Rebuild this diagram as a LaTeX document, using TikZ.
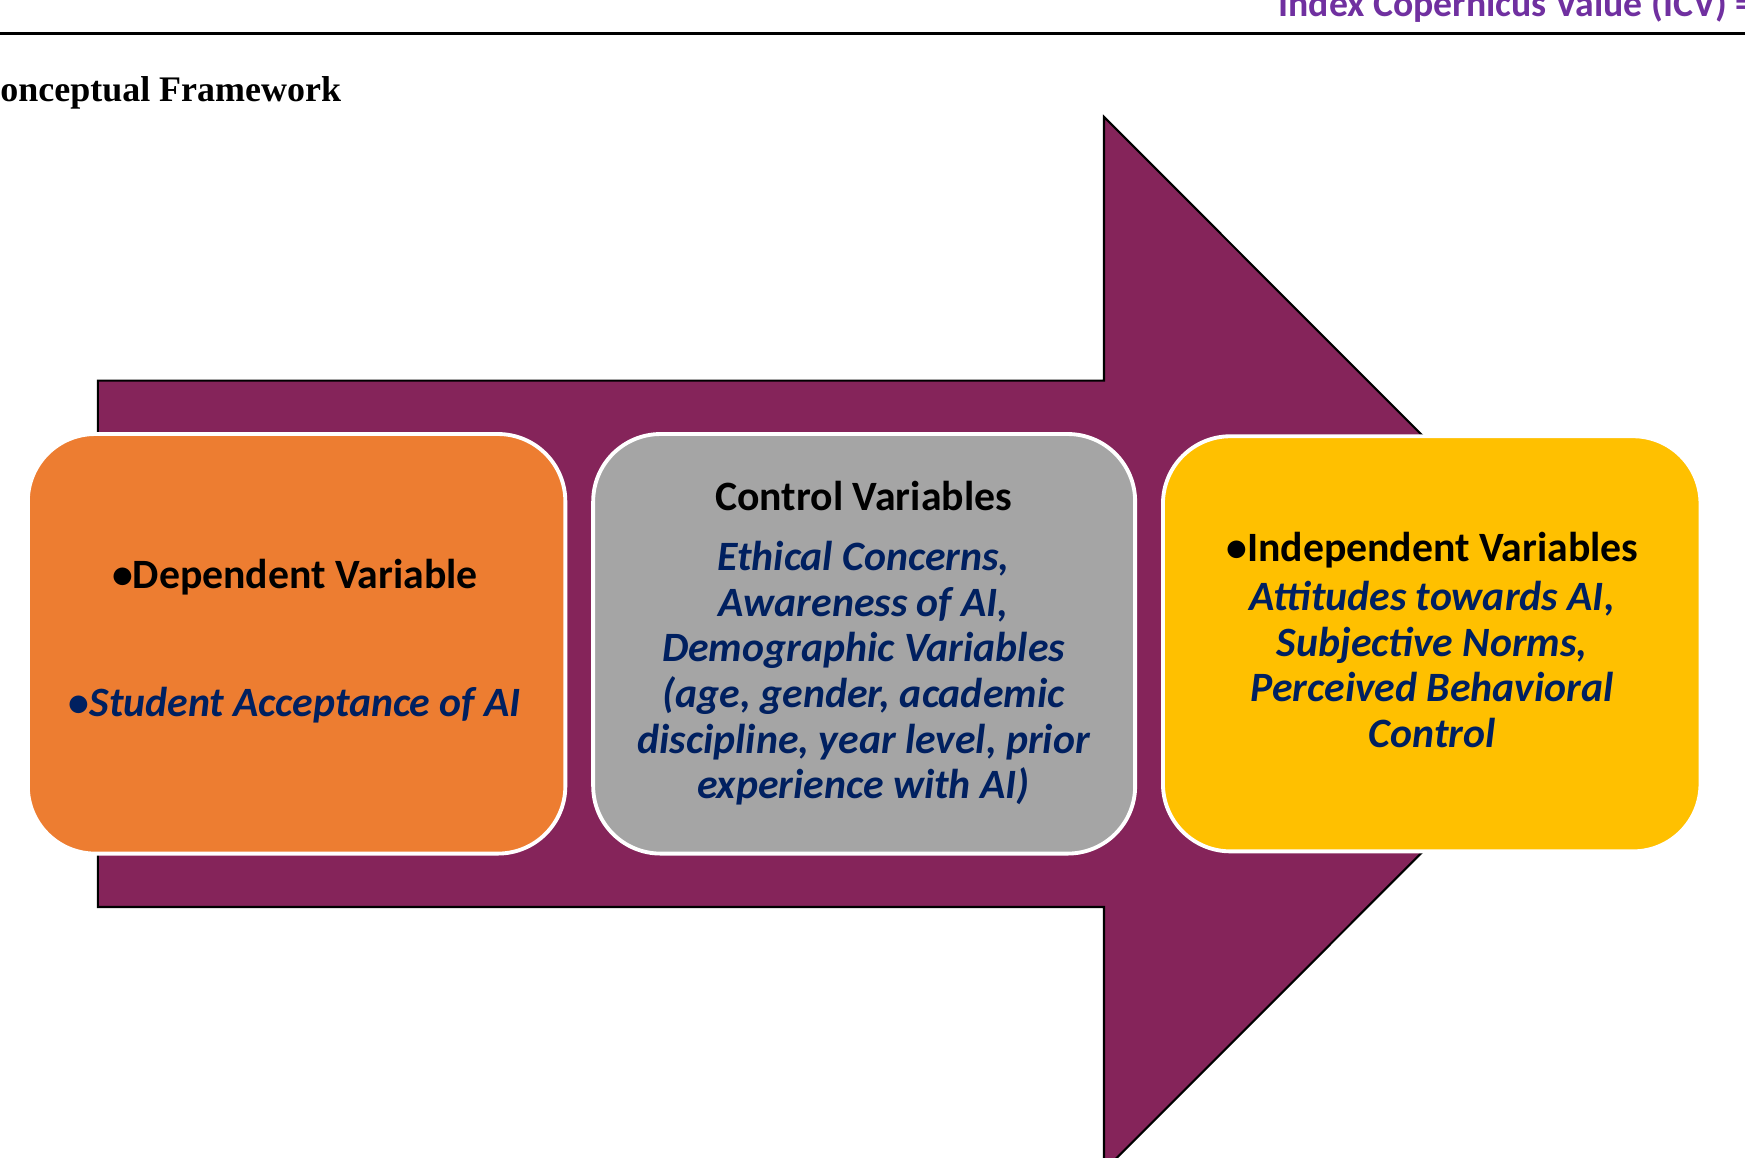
\documentclass[tikz,border=0pt]{standalone}
\usepackage{fontspec}
\setmainfont{Carlito}
\newfontfamily\serifbf{Liberation Serif}
\definecolor{plum}{RGB}{133,36,90}
\definecolor{orng}{RGB}{237,125,49}
\definecolor{gry}{RGB}{165,165,165}
\definecolor{yel}{RGB}{255,192,0}
\definecolor{navy}{RGB}{0,32,96}
\definecolor{purp}{RGB}{112,48,160}
\begin{document}
\begin{tikzpicture}[x=0.0223cm,y=-0.0223cm,
 box/.style={draw=white,line width=2.2pt,rounded corners=1.35cm},
 hd/.style={font=\fontsize{23.8}{26}\selectfont\bfseries,text=black,align=center},
 bl/.style={font=\fontsize{23.8}{26}\selectfont\bfseries\itshape,text=navy,align=center}]
\useasboundingbox (0,0) rectangle (1568,1040);
\node[anchor=east,font=\fontsize{21.5}{24}\selectfont\bfseries,text=purp] (icv) at (1582,5) {Index Copernicus Value (ICV) =};
\draw[line width=1.3pt] (0,30) -- (1568,30);
\node[anchor=east,font=\fontsize{20.5}{23}\selectfont\serifbf\bfseries] (title) at (312,83) {Conceptual Framework};
\draw[fill=plum,draw=black,line width=1.2pt] (88,342) -- (992,342) -- (992,105) -- (1465,578.5) -- (992,1052) -- (992,815) -- (88,815) -- cycle;
\draw[box,fill=orng] (25,390) rectangle (508,767);
\draw[box,fill=gry] (533,390) rectangle (1020,767);
\draw[box,fill=yel] (1045,392) rectangle (1528,765);
\node[hd] (dv) at (265,519) {•Dependent Variable};
\node[bl] (sa) at (265,634) {\upshape•\itshape Student Acceptance of AI};
\node[hd] (cv) at (776,446) {Control Variables};
\node[bl] (cvl) at (776,605) {Ethical Concerns,\\Awareness of AI,\\Demographic Variables\\(age, gender, academic\\discipline, year level, prior\\experience with AI)};
\node[hd] (iv) at (1287,494) {•Independent Variables};
\node[bl] (ivl) at (1287,597) {Attitudes towards AI,\\Subjective Norms,\\Perceived Behavioral\\Control};
\end{tikzpicture}
\end{document}
